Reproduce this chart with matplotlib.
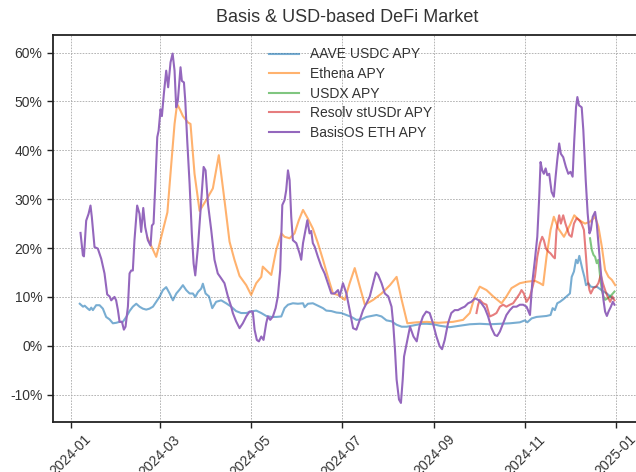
import matplotlib
matplotlib.use("Agg")
import matplotlib.pyplot as plt
import matplotlib.dates as mdates
from matplotlib.ticker import FuncFormatter
import pandas as pd

# ---- data: day offsets from 2024-01-01 and APY values (%) ----
aave_days = [6.2, 8.4, 9.5, 11.6, 12.8, 13.9, 15.0, 17.2, 19.5, 21.7, 23.9, 26.2, 28.4, 30.6, 32.9, 35.1,
             37.4, 39.6, 41.8, 44.1, 46.3, 48.5, 50.8, 53.0, 55.3, 57.5, 59.7, 62.0, 64.2, 66.5, 68.7,
             71.0, 73.2, 75.4, 77.6, 79.9, 82.1, 83.7, 85.5, 87.7, 88.8, 90.6, 92.9, 95.1, 97.7, 101.1,
             104.4, 107.8, 111.1, 114.5, 117.9, 121.2, 124.6, 128.0, 131.3, 134.7, 138.0, 141.4, 143.6,
             145.9, 149.2, 152.6, 156.0, 157.1, 159.3, 162.6, 166.0, 169.4, 171.6, 175.0, 178.4, 181.7,
             185.1, 188.5, 191.8, 195.2, 198.6, 201.9, 205.3, 208.7, 212.0, 215.4, 218.8, 222.2, 225.6,
             229.0, 232.3, 235.7, 239.1, 243.6, 247.7, 254.4, 261.1, 267.9, 274.6, 281.3, 288.1, 294.8,
             301.5, 304.9, 306.5, 309.4, 312.7, 316.1, 319.4, 322.1, 323.5, 325.0, 326.6, 328.4, 330.6,
             332.9, 335.1, 336.3, 337.8, 339.2, 340.3, 341.4, 342.5, 343.6, 344.8, 345.9, 347.4, 349.1,
             350.9, 353.1, 355.4, 357.6, 359.9, 362.1, 363.9]
aave_vals = [8.6, 8.0, 8.2, 7.6, 7.3, 7.8, 7.3, 8.3, 8.3, 7.6, 5.9, 5.4, 4.6, 4.7, 4.9, 4.9,
             5.9, 7.1, 8.0, 8.6, 8.0, 7.6, 7.4, 7.6, 8.0, 9.0, 10.0, 11.4, 12.0, 10.7, 9.3,
             10.7, 11.5, 12.4, 11.4, 10.7, 10.7, 10.0, 11.0, 11.7, 12.7, 10.7, 10.1, 7.7, 9.0, 9.3,
             8.7, 8.0, 7.1, 6.7, 6.7, 7.0, 7.2, 6.7, 6.1, 5.9, 5.9, 6.0, 7.7,
             8.4, 8.7, 8.6, 8.7, 7.9, 8.6, 8.7, 8.2, 7.7, 7.2, 7.1, 6.8, 6.7,
             6.3, 5.9, 5.3, 5.4, 5.9, 6.1, 6.3, 6.0, 5.2, 5.0, 4.3, 3.9, 3.9,
             4.1, 4.3, 4.5, 4.5, 4.4, 4.1, 3.8, 4.1, 4.4, 4.5, 4.4, 4.5, 4.6,
             4.8, 5.2, 4.8, 5.6, 5.9, 6.0, 6.1, 6.3, 7.7, 7.3, 8.7, 9.0, 9.5,
             10.1, 10.7, 14.1, 15.2, 17.6, 16.9, 18.4, 16.9, 15.5, 14.1, 12.4, 12.8, 12.1,
             12.0, 12.1, 11.6, 11.1, 10.7, 10.1, 9.7]

ethena_days = [51.5, 57.5, 65.0, 67.6, 69.8, 71.5, 73.8, 75.4, 78.8, 80.5, 83.2, 86.6, 91.0, 95.5,
               99.5, 103.3, 106.7, 110.0, 113.4, 117.9, 121.2, 124.6, 128.0, 129.0, 131.3, 134.7,
               138.0, 141.4, 143.6, 147.0, 150.3, 153.2, 156.0, 159.3, 162.6, 166.0, 169.4, 172.7,
               176.1, 179.5, 184.0, 187.3, 190.7, 194.1, 197.5, 203.1, 208.7, 214.3, 218.8, 222.2,
               226.0, 232.3, 239.1, 246.9, 256.7, 263.4, 267.9, 271.3, 274.6, 279.1, 283.6, 289.2,
               292.5, 295.9, 301.5, 306.0, 311.6, 315.0, 317.1, 319.4, 322.1, 324.3, 327.3, 331.1,
               335.1, 338.0, 341.4, 345.2, 348.6, 352.0, 354.2, 356.5, 358.7, 361.0, 363.2, 365.5]
ethena_vals = [22.2, 18.2, 27.3, 37.2, 45.4, 49.5, 48.1, 47.0, 45.7, 45.4, 35.2, 27.6, 29.8, 32.2,
               39.0, 29.8, 21.3, 17.6, 14.3, 12.4, 10.4, 12.8, 14.1, 16.2, 15.5, 14.5,
               19.6, 23.0, 22.3, 22.0, 23.0, 25.7, 27.8, 26.0, 24.0, 21.0, 17.6, 14.1,
               10.7, 10.4, 9.4, 12.8, 15.9, 12.1, 8.4, 9.4, 10.7, 12.4, 14.1, 9.4,
               4.6, 4.8, 4.9, 4.7, 4.9, 5.3, 6.7, 10.1, 12.1, 11.4, 10.1, 8.7,
               10.1, 11.8, 12.8, 13.1, 13.3, 12.8, 12.4, 18.2, 23.7, 26.4, 24.0, 22.3,
               24.7, 26.7, 25.7, 25.0, 25.4, 26.4, 24.4, 20.3, 15.5, 14.1, 13.5, 12.4]

usdx_days = [348.6, 349.8, 350.9, 352.0, 353.1, 354.2, 355.4, 356.5, 357.6, 358.7, 360.3, 362.1,
             363.9, 365.0]
usdx_vals = [22.0, 19.6, 18.6, 18.2, 16.9, 17.6, 14.1, 11.4, 10.1, 9.4, 9.7, 10.1, 10.7, 11.1]

resolv_days = [272.4, 273.5, 274.6, 276.8, 279.1, 281.3, 283.6, 285.8, 288.1, 290.3, 292.5, 294.8,
               297.0, 299.3, 301.5, 302.6, 304.2, 306.0, 308.3, 310.1, 311.6, 313.2, 315.0, 316.5,
               317.6, 319.0, 320.5, 322.1, 323.9, 325.0, 326.1, 327.9, 329.0, 330.6, 332.1, 333.5,
               334.6, 336.2, 337.8, 339.6, 341.4, 342.9, 344.5, 345.9, 347.0, 348.2, 349.1, 350.9,
               352.7, 354.2, 355.8, 357.2, 358.7, 360.3, 362.1, 363.6, 365.0]
resolv_vals = [6.7, 8.4, 9.4, 8.7, 8.4, 6.0, 6.3, 6.7, 8.0, 8.4, 8.0, 8.4,
               8.7, 9.7, 10.7, 11.4, 10.7, 9.0, 10.1, 12.1, 14.1, 18.2, 21.0, 22.3,
               21.6, 19.9, 19.3, 18.9, 18.2, 17.9, 23.7, 26.7, 25.0, 26.7, 25.0, 23.7,
               22.7, 22.3, 25.0, 26.1, 25.7, 25.0, 23.7, 18.2, 13.5, 11.4, 10.7, 11.8,
               12.1, 12.8, 14.5, 12.8, 11.4, 10.1, 9.0, 10.1, 9.3]

basis_days = [6.7, 8.3, 9.0, 10.5, 12.1, 13.4, 14.3, 16.1, 18.3, 20.6, 22.8, 24.6, 26.2, 27.3, 29.5,
              30.6, 31.8, 32.9, 34.5, 35.8, 36.9, 38.5, 39.6, 40.7, 41.8, 42.9, 44.7, 46.3, 47.4,
              48.8, 50.1, 51.9, 53.7, 54.6, 55.7, 56.8, 58.2, 59.1, 60.4, 61.3, 62.6, 64.2, 65.5,
              67.1, 68.5, 69.8, 70.9, 72.0, 73.8, 74.7, 76.1, 77.0, 78.3, 79.9, 81.4, 82.6, 83.7,
              85.5, 87.7, 89.3, 90.6, 92.2, 94.4, 96.6, 98.8, 101.1, 103.3, 105.6, 107.8, 108.9,
              111.1, 113.4, 115.6, 117.9, 120.1, 122.3, 123.5, 125.0, 126.4, 128.0, 129.5, 131.3,
              132.4, 134.0, 135.8, 137.6, 139.1, 140.7, 142.1, 143.6, 144.7, 145.9, 147.0, 148.1,
              149.2, 151.5, 153.7, 154.8, 156.0, 157.7, 158.9, 160.4, 161.5, 162.6, 163.8, 166.0,
              168.3, 170.5, 172.7, 175.0, 177.2, 179.5, 180.6, 182.8, 185.1, 187.3, 189.6, 191.8,
              194.1, 196.3, 198.6, 200.8, 203.1, 204.9, 206.4, 208.7, 210.9, 213.2, 215.4, 216.5,
              217.7, 218.8, 220.4, 221.7, 222.9, 223.8, 225.6, 227.8, 230.1, 232.3, 234.1, 236.5,
              238.7, 241.0, 243.2, 245.5, 247.7, 249.3, 251.1, 253.3, 255.5, 257.8, 260.0, 262.3,
              264.5, 266.8, 269.0, 271.3, 273.5, 275.7, 278.0, 280.2, 282.5, 284.7, 286.3, 288.1,
              290.3, 292.5, 294.8, 297.0, 299.3, 301.5, 303.7, 306.0, 308.3, 309.8, 311.6, 313.2,
              314.5, 315.4, 316.5, 317.6, 318.8, 319.9, 321.2, 322.8, 324.3, 325.5, 326.6, 327.9,
              329.0, 330.6, 332.4, 334.0, 335.5, 336.9, 338.0, 339.2, 340.1, 341.2, 343.0, 344.1,
              345.7, 347.0, 348.2, 349.1, 350.4, 352.0, 353.1, 354.2, 355.4, 356.5, 357.6, 358.7,
              359.9, 361.0, 362.6, 363.9, 365.0]
basis_vals = [23.1, 18.5, 18.3, 25.6, 27.0, 28.7, 26.3, 20.2, 19.9, 17.8, 14.8, 10.5, 10.1, 9.3, 10.0,
              9.3, 7.3, 4.9, 4.9, 3.3, 3.9, 8.0, 14.8, 15.4, 15.4, 21.6, 28.7, 27.0, 23.3,
              28.2, 24.3, 21.6, 20.5, 24.6, 25.0, 32.4, 42.7, 44.0, 48.4, 47.0, 51.5, 56.3, 52.9,
              58.0, 59.8, 56.3, 48.8, 50.1, 57.0, 54.2, 53.9, 50.1, 42.0, 33.1, 22.9, 16.8, 14.4,
              20.2, 29.7, 36.6, 35.9, 29.1, 23.7, 17.6, 14.8, 13.8, 12.8, 10.1, 8.0, 6.7,
              5.0, 3.6, 4.6, 6.0, 7.0, 7.0, 3.3, 1.2, 0.9, 1.9, 1.2, 4.6,
              6.0, 5.3, 6.0, 7.7, 10.1, 15.5, 28.8, 29.8, 31.8, 35.9, 33.9, 26.4,
              21.6, 21.0, 18.9, 17.6, 21.0, 23.7, 25.7, 23.0, 23.5, 21.0, 20.3, 18.2,
              16.2, 14.8, 12.8, 10.7, 10.7, 11.4, 10.1, 12.8, 10.7, 7.3, 3.6, 3.3,
              5.3, 7.3, 8.7, 10.1, 12.8, 15.0, 14.5, 12.8, 10.7, 10.1, 8.0, 4.6,
              -0.8, -6.9, -11.0, -11.7, -6.9, -2.2, 0.5, 3.9, 1.9, 0.9, 3.9, 6.0,
              7.0, 6.7, 4.6, 1.9, -0.1, -0.7, 1.2, 4.6, 6.7, 7.3, 7.3, 7.7,
              8.0, 8.7, 9.0, 9.7, 9.4, 8.7, 7.7, 6.0, 3.6, 2.2, 2.0, 2.9,
              4.6, 6.3, 7.3, 8.0, 8.0, 8.4, 8.4, 8.0, 6.3, 12.8, 17.6, 22.3,
              30.5, 37.6, 35.9, 35.2, 36.3, 34.9, 35.2, 31.5, 30.5, 34.6, 38.0, 41.4,
              39.3, 38.6, 36.6, 35.2, 35.6, 34.6, 42.0, 48.8, 50.9, 49.2, 48.8, 44.1,
              33.9, 27.1, 23.0, 23.7, 26.4, 27.4, 25.0, 21.0, 16.9, 12.8, 9.4, 7.0,
              6.1, 7.0, 8.0, 9.0, 8.4]

series_labels = ["AAVE USDC APY", "Ethena APY", "USDX APY", "Resolv stUSDr APY", "BasisOS ETH APY"]
title_text = "Basis & USD-based DeFi Market"

base = pd.Timestamp("2024-01-01")


def to_dates(days):
    return base + pd.to_timedelta(days, unit="D")


plt.rcParams["font.family"] = ["Liberation Sans", "DejaVu Sans"]

fig = plt.figure(figsize=(6.36, 4.72), dpi=100)
ax = fig.add_axes([53 / 636, 1 - 422 / 472, (642 - 53) / 636, (422 - 35) / 472])

colors = ["#1f77b4", "#ff7f0e", "#2ca02c", "#d62728", "#9467bd"]
series = [(aave_days, aave_vals), (ethena_days, ethena_vals), (usdx_days, usdx_vals),
          (resolv_days, resolv_vals), (basis_days, basis_vals)]
alphas = [0.6, 0.6, 0.6, 0.6, 1.0]
for (d, v), lab, c, a in zip(series, series_labels, colors, alphas):
    ax.plot(to_dates(d), v, color=c, alpha=a, lw=1.5, label=lab)

ax.set_ylim(-15.6, 63.6)
ax.xaxis.set_major_locator(mdates.MonthLocator(bymonth=[1, 3, 5, 7, 9, 11]))
ax.xaxis.set_major_formatter(mdates.DateFormatter("%Y-%m"))
ax.yaxis.set_major_formatter(FuncFormatter(lambda v, _: f"{v:.0f}%"))
ax.set_yticks([-10, 0, 10, 20, 30, 40, 50, 60])

ax.grid(True, linestyle=(0, (2, 1.5)), color="#aaaaaa", lw=0.6)
for s in ax.spines.values():
    s.set_color("#222222")
    s.set_linewidth(1.3)
ax.tick_params(axis="both", colors="#222222", labelcolor="#333333", labelsize=10, length=4, width=1)
for lbl in ax.get_xticklabels():
    lbl.set_rotation(45)

ax.set_title(title_text, fontsize=13, color="#333333", pad=9, x=(347 - 53) / (642 - 53))
leg = ax.legend(loc="upper center", frameon=False, fontsize=10, bbox_to_anchor=(0.505, 1.0),
                handlelength=2.2, labelspacing=0.4)
for t in leg.get_texts():
    t.set_color("#333333")

fig.savefig("out.png", dpi=100)
